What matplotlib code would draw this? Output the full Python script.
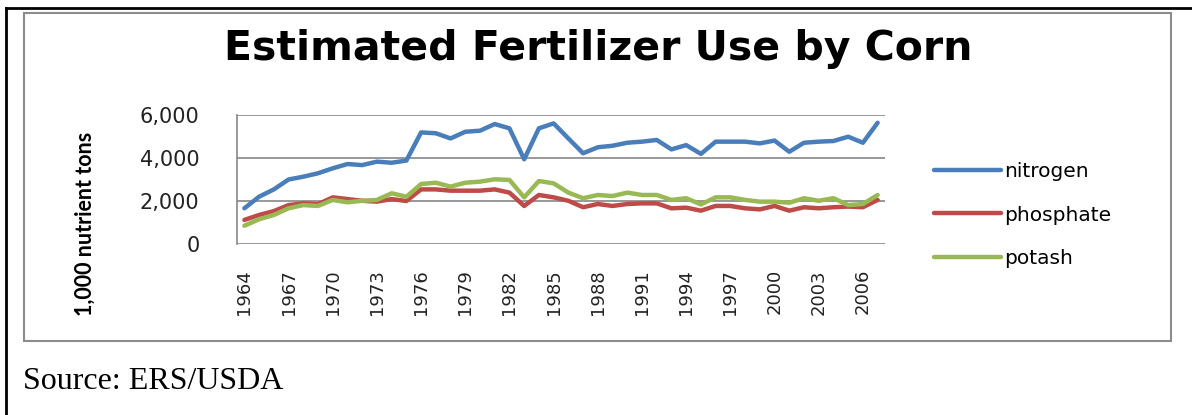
import matplotlib.pyplot as plt
from matplotlib.patches import Rectangle
from matplotlib.lines import Line2D

years = list(range(1964, 2008))

nitrogen = [1660, 2200, 2540, 3000, 3130, 3290, 3520, 3720, 3670, 3830,
            3780, 3880, 5190, 5150, 4910, 5220, 5270, 5580, 5380, 3940,
            5380, 5610, 4910, 4220, 4500, 4570, 4710, 4760, 4840, 4400,
            4600, 4190, 4760, 4760, 4760, 4680, 4810, 4290, 4710, 4760,
            4790, 4990, 4710, 5640]
phosphate = [1120, 1350, 1530, 1810, 1890, 1850, 2170, 2090, 2010, 1970,
             2090, 2000, 2540, 2540, 2480, 2480, 2480, 2540, 2390, 1770,
             2280, 2170, 2010, 1710, 1860, 1770, 1860, 1890, 1890, 1660,
             1690, 1550, 1770, 1770, 1660, 1610, 1770, 1550, 1710, 1660,
             1710, 1740, 1710, 2050]
potash = [850, 1150, 1350, 1660, 1810, 1770, 2050, 1940, 2010, 2050,
          2360, 2200, 2790, 2850, 2670, 2850, 2900, 3010, 2980, 2170,
          2930, 2820, 2390, 2130, 2280, 2230, 2390, 2280, 2280, 2050,
          2130, 1840, 2170, 2170, 2050, 1970, 1970, 1920, 2130, 2010,
          2130, 1810, 1860, 2280]

series = [("nitrogen", nitrogen, "#4A7EBB"),
          ("phosphate", phosphate, "#BE4B48"),
          ("potash", potash, "#98B954")]

W, H = 1192, 415
fig = plt.figure(figsize=(W / 100, H / 100), dpi=100)

# page border (black) and chart border (gray)
fig.add_artist(Line2D([6 / W, 1], [1 - 8 / H, 1 - 8 / H], color="black", lw=2))
fig.add_artist(Line2D([6 / W, 6 / W], [0, 1 - 8 / H], color="black", lw=2))
fig.add_artist(Rectangle((24 / W, 1 - 341 / H), (1171 - 24) / W, (341 - 13) / H,
                         fill=False, edgecolor="#8c8c8c", lw=1.5))

ax = fig.add_axes([237 / W, 1 - 244 / H, (885 - 237) / W, (244 - 115) / H])
x = list(range(len(years)))
for name, vals, col in series:
    ax.plot(x, vals, color=col, lw=3.2, label=name, solid_capstyle="round")

ax.set_xlim(-0.5, len(years) - 0.5)
ax.set_ylim(0, 6000)
ax.set_yticks([0, 2000, 4000, 6000])
ax.set_yticklabels(["0", "2,000", "4,000", "6,000"], fontsize=15, color="#222222")
ax.set_xticks(x[::3])
ax.set_xticklabels([str(y) for y in years[::3]], rotation=90, fontsize=13,
                   color="#222222")
ax.tick_params(length=0)
ax.tick_params(axis="y", pad=27)
ax.tick_params(axis="x", pad=18)
ax.grid(axis="y", color="#868686", lw=1.2)
ax.set_axisbelow(True)
for s in ["top", "right", "bottom"]:
    ax.spines[s].set_visible(False)
ax.spines["left"].set_color("#868686")
ax.spines["left"].set_linewidth(1.2)

fig.text(85 / W, 1 - 224 / H, "1,000 nutrient tons", rotation=90,
         ha="center", va="center", fontsize=15.5, fontweight="bold", family="Lato")

fig.text(598 / W, 1 - 60 / H, "Estimated Fertilizer Use by Corn",
         ha="center", va="baseline", fontsize=29.5, fontweight="bold",
         family="DejaVu Sans")

leg = fig.legend(loc="center left", bbox_to_anchor=(916 / W, 1 - 215 / H),
                 frameon=False, fontsize=14.5, handlelength=3.3, handletextpad=0.2,
                 labelspacing=1.2)

fig.text(23 / W, 1 - 381 / H, "Source: ERS/USDA", ha="left", va="center",
         fontsize=23, family="Liberation Serif")

fig.savefig("out.png", dpi=100)
